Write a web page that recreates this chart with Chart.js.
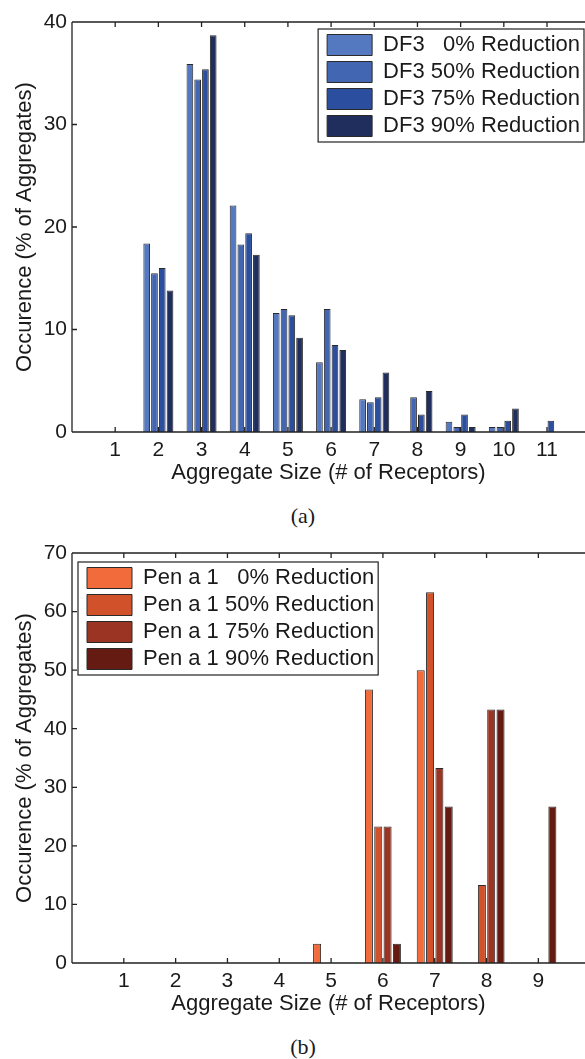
<!DOCTYPE html>
<html>
<head>
<meta charset="utf-8">
<script src="https://cdn.jsdelivr.net/npm/chart.js@4.4.1/dist/chart.umd.min.js"></script>
<style>
  html, body { margin: 0; padding: 0; background: #fff; }
  body { width: 585px; height: 1059px; position: relative; overflow: hidden; }
  .panel { position: absolute; left: 0; width: 585px; height: 500px; }
  .cap { position: absolute; left: 0; width: 606px; text-align: center;
         font-family: 'Liberation Serif', 'Times New Roman', serif; font-size: 22px;
         line-height: 26px; color: #1a1a1a; }
</style>
</head>
<body>
<div class="panel" style="top:0"><canvas id="chartA"></canvas></div>
<div class="cap" style="top:503px">(a)</div>
<div class="panel" style="top:531px"><canvas id="chartB"></canvas></div>
<div class="cap" style="top:1034px">(b)</div>
<script>
// aggregate sizes (x categories)
const sizesA = [1, 2, 3, 4, 5, 6, 7, 8, 9, 10, 11]
const sizesB = [1, 2, 3, 4, 5, 6, 7, 8, 9]

// (a) DF3, % of aggregates
const df3_0  = [0, 18.4, 35.9, 22.1, 11.6,  6.8, 3.2, 0,   1.0, 0.5, 0]
const df3_50 = [0, 15.5, 34.4, 18.3, 12.0, 12.0, 2.9, 3.4, 0.5, 0.5, 0]
const df3_75 = [0, 16.0, 35.4, 19.4, 11.4,  8.5, 3.4, 1.7, 1.7, 1.1, 1.1]
const df3_90 = [0, 13.8, 38.7, 17.3,  9.2,  8.0, 5.8, 4.0, 0.5, 2.3, 0]

// (b) Pen a 1, % of aggregates
const pen_0  = [0, 0, 0, 0, 3.3, 46.7, 50.0,  0,    0]
const pen_50 = [0, 0, 0, 0, 0,   23.3, 63.3, 13.3,  0]
const pen_75 = [0, 0, 0, 0, 0,   23.3, 33.3, 43.3,  0]
const pen_90 = [0, 0, 0, 0, 0,    3.3, 26.7, 43.3, 26.7]

const yTicksA = [0, 10, 20, 30, 40]
const yTicksB = [0, 10, 20, 30, 40, 50, 60, 70]

const labelsA = ['DF3   0% Reduction', 'DF3 50% Reduction', 'DF3 75% Reduction', 'DF3 90% Reduction']
const labelsB = ['Pen a 1   0% Reduction', 'Pen a 1 50% Reduction', 'Pen a 1 75% Reduction', 'Pen a 1 90% Reduction']

const coloursA = ['#5479c1', '#4266b2', '#2b4f9e', '#1f2e5c']
const coloursB = ['#f26b3a', '#d1512b', '#9c3424', '#651b12']

const ink = '#1a1a1a'
Chart.defaults.font.family = "'Liberation Sans', Arial, Helvetica, sans-serif"
Chart.defaults.color = ink

// matlab style box with inward tick marks
const boxTicks = {
  id: 'boxTicks',
  afterDatasetsDraw(chart) {
    const {ctx, chartArea: ca, scales: {x, y}} = chart
    ctx.save()
    ctx.strokeStyle = '#222'
    ctx.lineWidth = 1.3
    ctx.beginPath()
    ctx.moveTo(ca.left, ca.top); ctx.lineTo(ca.right, ca.top)
    ctx.moveTo(ca.left, ca.bottom); ctx.lineTo(ca.right, ca.bottom)
    ctx.moveTo(ca.left, ca.top); ctx.lineTo(ca.left, ca.bottom)
    x.ticks.forEach(t => {
      if (t.value < 1) return
      const px = x.getPixelForValue(t.value)
      ctx.moveTo(px, ca.bottom); ctx.lineTo(px, ca.bottom - 5)
      ctx.moveTo(px, ca.top); ctx.lineTo(px, ca.top + 5)
    })
    y.ticks.forEach(t => {
      const py = y.getPixelForValue(t.value)
      ctx.moveTo(ca.left, py); ctx.lineTo(ca.left + 5, py)
    })
    ctx.stroke()
    ctx.restore()
  }
}

// moves the chartArea legend to a corner and frames it
const legendFrame = {
  id: 'legendFrame',
  afterLayout(chart, args, opts) {
    const lg = chart.legend
    if (!lg || !lg.columnSizes || !lg.columnSizes.length) return
    const ca = chart.chartArea
    const pad = lg.options.labels.padding
    const col = lg.columnSizes[0]
    const w = opts.inset + col.width + opts.tail
    const h = col.height + pad
    const x = opts.anchor === 'right' ? ca.right - opts.dx - w : ca.left + opts.dx
    const y = ca.top + opts.dy
    lg.left = x + opts.inset - pad
    lg.top = y
    chart.$frame = {x, y, w, h}
  },
  afterDraw(chart) {
    const f = chart.$frame
    if (!f) return
    const ctx = chart.ctx
    ctx.save()
    ctx.strokeStyle = '#222'
    ctx.lineWidth = 1.2
    ctx.strokeRect(f.x, f.y, f.w, f.h)
    ctx.restore()
  }
}

const makeChart = (id, sizes, series, labels, colours, yTicks, xMax, frame) => {
  new Chart(document.getElementById(id), {
    type: 'bar',
    data: {
      datasets: series.map((vals, i) => ({
        label: labels[i],
        data: sizes.map((s, j) => ({x: s, y: vals[j]})),
        backgroundColor: colours[i],
        borderColor: '#2a2a2a',
        borderWidth: 1,
        categoryPercentage: 0.72,
        barPercentage: 0.86
      }))
    },
    options: {
      responsive: true,
      maintainAspectRatio: false,
      animation: false,
      layout: {padding: {top: 22, right: 0, bottom: 8, left: 0}},
      plugins: {
        tooltip: {enabled: false},
        legend: {
          position: 'chartArea',
          align: 'start',
          labels: {
            boxWidth: 45,
            boxHeight: 21,
            padding: 5,
            color: ink,
            font: {size: 22}
          }
        },
        legendFrame: frame
      },
      scales: {
        x: {
          type: 'linear',
          offset: false,
          min: 0,
          max: xMax,
          grid: {display: false, drawTicks: false, offset: false},
          border: {display: false},
          ticks: {
            stepSize: 1,
            includeBounds: false,
            autoSkip: false,
            maxRotation: 0,
            padding: 6,
            color: ink,
            font: {size: 21},
            callback: v => (v >= 1 && v <= sizes[sizes.length - 1]) ? String(v) : ''
          },
          title: {
            display: true,
            text: 'Aggregate Size (# of Receptors)',
            color: ink,
            font: {size: 22},
            padding: {top: 0, bottom: 6}
          },
          afterFit: s => { s.height = 60 }
        },
        y: {
          min: yTicks[0],
          max: yTicks[yTicks.length - 1],
          grid: {display: false, drawTicks: false},
          border: {display: false},
          ticks: {
            stepSize: yTicks[1] - yTicks[0],
            padding: 5,
            color: ink,
            font: {size: 21}
          },
          title: {
            display: true,
            text: 'Occurence (% of Aggregates)',
            color: ink,
            font: {size: 22},
            padding: {top: 12, bottom: 0}
          },
          afterFit: s => { s.width = 72 }
        }
      }
    },
    plugins: [boxTicks, legendFrame]
  })
}

window.addEventListener('DOMContentLoaded', () => {
  makeChart('chartA', sizesA, [df3_0, df3_50, df3_75, df3_90], labelsA, coloursA, yTicksA, 11.88,
    {anchor: 'right', dx: 1, dy: 7, inset: 9, tail: 4})
  makeChart('chartB', sizesB, [pen_0, pen_50, pen_75, pen_90], labelsB, coloursB, yTicksB, 9.9,
    {anchor: 'left', dx: 6, dy: 9, inset: 9, tail: 4})
})
</script>
</body>
</html>
